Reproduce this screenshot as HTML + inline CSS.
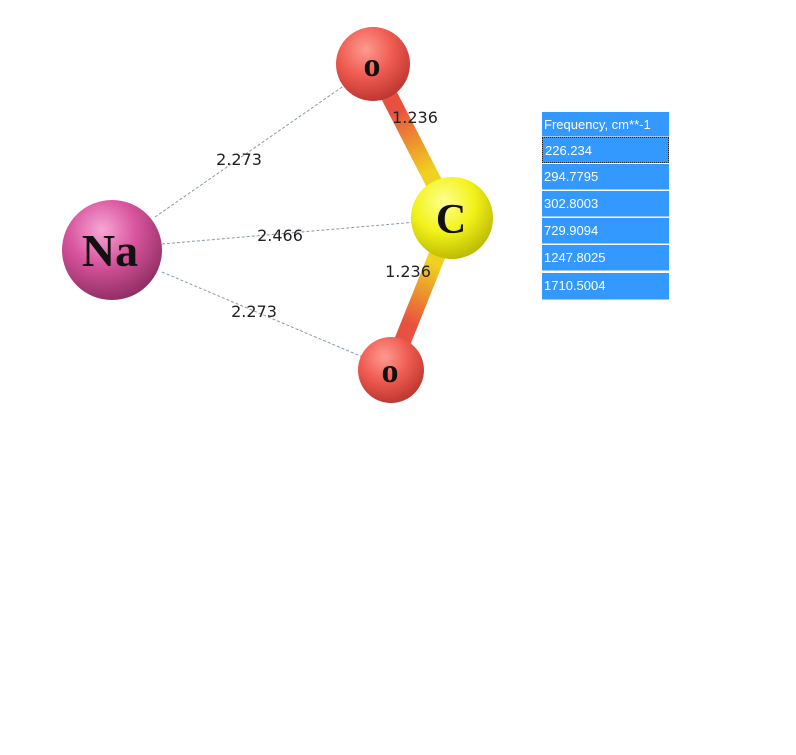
<!DOCTYPE html>
<html><head><style>
body{margin:0;background:#fff;width:796px;height:755px;overflow:hidden;position:relative;font-family:"DejaVu Sans","Liberation Sans",sans-serif}
.t{position:absolute;left:542px;width:127px;background:#3399ff;color:#fff;font-size:13px;line-height:26px;height:26px;padding-left:2px;box-sizing:border-box;border-bottom:1px solid #9cc8f5;font-family:"Liberation Sans",sans-serif}
</style></head><body>
<svg width="796" height="755" style="position:absolute;left:0;top:0">
<defs>
<radialGradient id="na" cx="0.4" cy="0.3" r="0.75"><stop offset="0" stop-color="#f7a6d6"/><stop offset="0.45" stop-color="#d9559e"/><stop offset="1" stop-color="#8a2a5e"/></radialGradient>
<radialGradient id="o" cx="0.4" cy="0.3" r="0.75"><stop offset="0" stop-color="#ff9a90"/><stop offset="0.5" stop-color="#ee5a50"/><stop offset="1" stop-color="#b8332c"/></radialGradient>
<radialGradient id="c" cx="0.4" cy="0.3" r="0.75"><stop offset="0" stop-color="#ffff90"/><stop offset="0.5" stop-color="#f2f21a"/><stop offset="1" stop-color="#b5b500"/></radialGradient>
<linearGradient id="b1" x1="373" y1="64" x2="452" y2="218" gradientUnits="userSpaceOnUse"><stop offset="0.3" stop-color="#e8503f"/><stop offset="0.7" stop-color="#f0d020"/></linearGradient>
<linearGradient id="b2" x1="452" y1="218" x2="391" y2="370" gradientUnits="userSpaceOnUse"><stop offset="0.3" stop-color="#f0d020"/><stop offset="0.7" stop-color="#e8503f"/></linearGradient>
</defs>
<line x1="373" y1="64" x2="452" y2="218" stroke="url(#b1)" stroke-width="17"/>
<line x1="452" y1="218" x2="391" y2="370" stroke="url(#b2)" stroke-width="17"/>
<g stroke="#8a9aa8" stroke-width="1" stroke-dasharray="3,2">
<line x1="155" y1="217" x2="345" y2="85"/>
<line x1="162" y1="244" x2="440" y2="220"/>
<line x1="162" y1="272" x2="365" y2="358"/>
</g>
<circle cx="112" cy="250" r="50" fill="url(#na)"/>
<circle cx="373" cy="64" r="37" fill="url(#o)"/>
<circle cx="452" cy="218" r="41" fill="url(#c)"/>
<circle cx="391" cy="370" r="33" fill="url(#o)"/>
<g font-family="'Liberation Serif',serif" font-weight="bold" fill="#111" text-anchor="middle">
<text x="110" y="266" font-size="46">Na</text>
<text x="372" y="76" font-size="34">o</text>
<text x="451" y="233" font-size="42">C</text>
<text x="390" y="382" font-size="34">o</text>
</g>
<g font-size="16" fill="#222" text-anchor="middle">
<text x="239" y="165">2.273</text>
<text x="280" y="241">2.466</text>
<text x="254" y="317">2.273</text>
<text x="415" y="123">1.236</text>
<text x="408" y="277">1.236</text>
</g>
</svg>
<div class="t" style="top:112px;height:25px">Frequency, cm**-1</div>
<div class="t" style="top:137px;border:1px dotted #222">226.234</div>
<div class="t" style="top:164px">294.7795</div>
<div class="t" style="top:191px">302.8003</div>
<div class="t" style="top:218px">729.9094</div>
<div class="t" style="top:245px">1247.8025</div>
<div class="t" style="top:273px;height:27px">1710.5004</div>
</body></html>
